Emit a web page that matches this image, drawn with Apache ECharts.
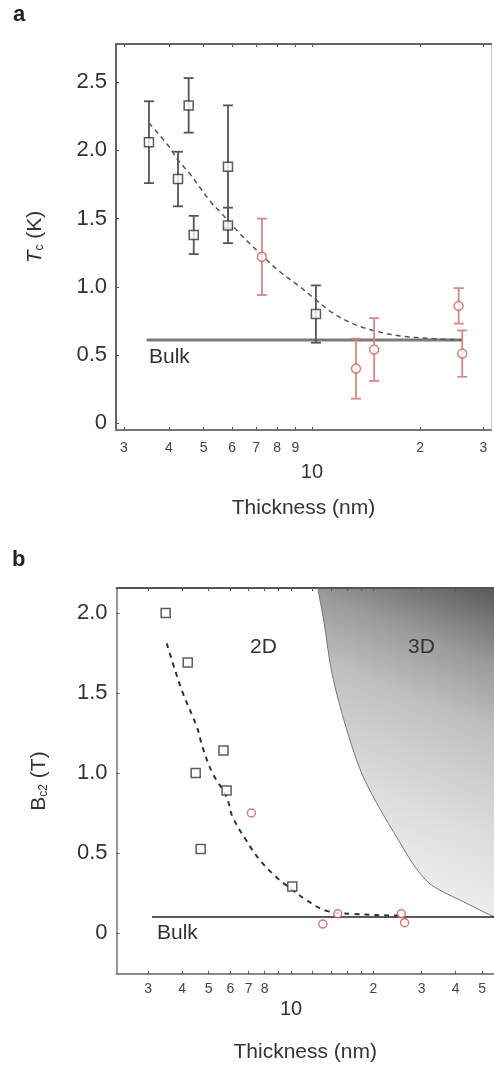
<!DOCTYPE html>
<html><head><meta charset="utf-8">
<script src="https://cdn.jsdelivr.net/npm/echarts@6/dist/echarts.min.js"></script>
<style>html,body{margin:0;padding:0;background:#fff}#c{width:494px;height:1069px}</style>
</head><body><div id="c"></div>
<script>
// ---------- Panel a : Tc vs thickness ----------
const aSqThick = [3.52, 4.54, 4.24, 5.84, 4.69, 5.84, 10.26];
const aSqTc    = [2.06, 2.33, 1.79, 1.88, 1.38, 1.45, 0.80];
const aSqErr   = [0.30, 0.20, 0.20, 0.45, 0.14, 0.13, 0.21];
const aCiThick = [7.26, 13.26, 14.9, 25.6, 26.2];
const aCiTc    = [1.22, 0.40, 0.54, 0.86, 0.51];
const aCiErr   = [0.28, 0.22, 0.23, 0.13, 0.17];
const aFitThick = [3.52, 3.97, 4.24, 4.57, 5.20, 5.55, 6.30, 7.2, 8.15, 9.26, 10.2, 11.4, 13.0, 14.8, 17.6, 21.7, 26.2];
const aFitTc    = [2.20, 2.04, 1.93, 1.83, 1.63, 1.55, 1.39, 1.24, 1.11, 1.00, 0.91, 0.81, 0.73, 0.68, 0.64, 0.62, 0.61];
const aBulkThick = [3.47, 26.2];
const aBulkTc = 0.61;
const aXLabels = [3, 4, 5, 6, 7, 8, 9, 10, 20, 30];
const aXTicks  = [3, 4, 5, 6, 7, 8, 9, 10, 20, 30];
const aYTicks  = [0, 0.5, 1, 1.5, 2, 2.5];
const aXRange = [2.85, 31.5];
const aYRange = [-0.05, 2.78];

// ---------- Panel b : Bc2 vs thickness ----------
const bSqThick = [3.48, 4.19, 4.48, 4.67, 5.66, 5.81, 10.1];
const bSqB     = [2.0, 1.69, 1.0, 0.525, 1.14, 0.89, 0.29];
const bCiThick = [7.16, 13.07, 14.8, 25.3, 26.0];
const bCiB     = [0.75, 0.056, 0.12, 0.12, 0.065];
const bFitThick = [3.51, 3.69, 4.02, 4.52, 4.75, 5.16, 5.81, 6.10, 6.85, 7.66, 8.82, 10.1, 11.3, 13.4, 16.7, 24.7, 26.0];
const bFitB     = [1.81, 1.69, 1.50, 1.29, 1.16, 1.00, 0.85, 0.73, 0.58, 0.46, 0.35, 0.27, 0.21, 0.14, 0.12, 0.11, 0.11];
const bBoundThick = [12.5, 13.2, 14.1, 15.85, 18.1, 20.9, 24.7, 28.5, 32.6, 43.3, 53.8, 56.0];
const bBoundB     = [2.16, 1.94, 1.625, 1.29, 1.0, 0.79, 0.58, 0.41, 0.30, 0.19, 0.11, 0.10];
const bBulkThick = [3.1, 60];
const bBulkB = 0.10;
const bXLabels = [3, 4, 5, 6, 7, 8, 10, 20, 30, 40, 50];
const bXTicks  = [3, 4, 5, 6, 7, 8, 9, 10, 12, 14, 16, 18, 20, 30, 40, 50];
const bYTicks  = [0, 0.5, 1, 1.5, 2];
const bXRange = [2.30, 55.2];
const bYRange = [-0.256, 2.156];

const lg = Math.log10;
const FONT = 'Liberation Sans, Arial, sans-serif';
const TXT = '#333';

function pts(th, v) { return th.map((t, i) => [lg(t), v[i]]); }
function errData(th, v, e) { return th.map((t, i) => [lg(t), v[i] - e[i], v[i] + e[i]]); }

function errSeries(data, color, xi, yi) {
  return {
    type: 'custom', xAxisIndex: xi, yAxisIndex: yi, data: data, encode: { x: 0, y: [1, 2] }, z: 3, silent: true,
    renderItem: function (params, api) {
      const x = api.value(0), lo = api.value(1), hi = api.value(2);
      const t = api.coord([x, hi]), b = api.coord([x, lo]);
      const st = { stroke: color, lineWidth: 1.8 };
      const c = 5;
      return { type: 'group', children: [
        { type: 'line', shape: { x1: t[0], y1: t[1], x2: b[0], y2: b[1] }, style: st },
        { type: 'line', shape: { x1: t[0] - c, y1: t[1], x2: t[0] + c, y2: t[1] }, style: st },
        { type: 'line', shape: { x1: b[0] - c, y1: b[1], x2: b[0] + c, y2: b[1] }, style: st }
      ] };
    }
  };
}

function xFmt(v) {
  const n = Math.round(Math.pow(10, v));
  if (n === 10) return '{g| }\n{t|10}';
  return '{s|' + (n >= 20 ? n / 10 : n) + '}';
}

function xBottom(gi, range, labels, ticks, margin, gapH, lineColor) {
  return {
    type: 'value', gridIndex: gi, position: 'bottom', min: lg(range[0]), max: lg(range[1]),
    axisLine: { show: true, onZero: false, lineStyle: { color: lineColor, width: 2 } },
    splitLine: { show: false },
    axisTick: { show: true, inside: true, length: 3, customValues: ticks.map(lg), lineStyle: { color: '#555', width: 1 } },
    axisLabel: {
      customValues: labels.map(lg), margin: margin, formatter: xFmt,
      rich: {
        s: { fontSize: 14, color: '#444', fontFamily: FONT, lineHeight: 16 },
        g: { fontSize: 2, lineHeight: gapH },
        t: { fontSize: 20, color: TXT, fontFamily: FONT, lineHeight: 22 }
      }
    },
    name: 'Thickness (nm)', nameLocation: 'middle', nameGap: 68,
    nameTextStyle: { fontSize: 21, color: TXT, fontFamily: FONT }
  };
}
function xTop(gi, range, ticks, lineColor) {
  return {
    type: 'value', gridIndex: gi, position: 'top', min: lg(range[0]), max: lg(range[1]),
    axisLine: { show: true, onZero: false, lineStyle: { color: lineColor, width: 2 } },
    splitLine: { show: false },
    axisTick: { show: true, inside: true, length: 3, customValues: ticks.map(lg), lineStyle: { color: '#555', width: 1 } },
    axisLabel: { show: false }
  };
}
function yLeft(gi, range, ticks, name, rich, lineColor, gap) {
  return {
    type: 'value', gridIndex: gi, position: 'left', min: range[0], max: range[1],
    axisLine: { show: true, onZero: false, lineStyle: { color: lineColor, width: 2 } },
    splitLine: { show: false },
    axisTick: { show: true, inside: true, length: 3, customValues: ticks, lineStyle: { color: '#555' } },
    axisLabel: { customValues: ticks, margin: 9, fontSize: 22, color: TXT, fontFamily: FONT,
      formatter: v => (v === 0 ? '0' : v.toFixed(1)) },
    name: name, nameLocation: 'middle', nameGap: gap,
    nameTextStyle: { fontSize: 21, color: TXT, fontFamily: FONT, rich: rich }
  };
}
function yRight(gi, range, color) {
  return {
    type: 'value', gridIndex: gi, position: 'right', min: range[0], max: range[1],
    axisLine: { show: true, onZero: false, lineStyle: { color: color, width: 1 } },
    splitLine: { show: false }, axisTick: { show: false }, axisLabel: { show: false }
  };
}

const chart = echarts.init(document.getElementById('c'), null, { renderer: 'canvas' });

const option = {
  backgroundColor: '#fff',
  animation: false,
  grid: [
    { left: 116, top: 44, width: 375, height: 386 },
    { left: 116.5, top: 588, width: 380, height: 386 }
  ],
  xAxis: [
    xBottom(0, aXRange, aXLabels, aXTicks, 10, 21, '#777'),
    xTop(0, aXRange, aXTicks, '#666'),
    xBottom(1, bXRange, bXLabels, bXTicks, 7, 17, '#888'),
    xTop(1, bXRange, bXTicks, '#555')
  ],
  yAxis: [
    yLeft(0, aYRange, aYTicks, '{i|T}{sub|c} (K)', {
      i: { fontStyle: 'italic', fontSize: 21, color: TXT, fontFamily: FONT },
      sub: { fontSize: 12, color: TXT, fontFamily: FONT, verticalAlign: 'bottom', lineHeight: 14 }
    }, '#666', 70),
    yRight(0, aYRange, '#ccc'),
    yLeft(1, bYRange, bYTicks, 'B{sub|c2} (T)', {
      sub: { fontSize: 12, color: TXT, fontFamily: FONT, verticalAlign: 'bottom', lineHeight: 14 }
    }, '#999', 67),
    yRight(1, bYRange, '#ccc')
  ],
  graphic: [
    { type: 'text', x: 13, y: 15, z: 100, style: { text: 'a', font: 'bold 22px ' + FONT, fill: '#222', verticalAlign: 'middle' } },
    { type: 'text', x: 12, y: 560, z: 100, style: { text: 'b', font: 'bold 22px ' + FONT, fill: '#222', verticalAlign: 'middle' } },
    { type: 'text', x: 149, y: 357, z: 100, style: { text: 'Bulk', font: '21px ' + FONT, fill: TXT, verticalAlign: 'middle' } },
    { type: 'text', x: 157, y: 933, z: 100, style: { text: 'Bulk', font: '21px ' + FONT, fill: TXT, verticalAlign: 'middle' } },
    { type: 'text', x: 250, y: 647, z: 100, style: { text: '2D', font: '21px ' + FONT, fill: TXT, verticalAlign: 'middle' } },
    { type: 'text', x: 408, y: 647, z: 100, style: { text: '3D', font: '21px ' + FONT, fill: TXT, verticalAlign: 'middle' } }
  ],
  series: [
    // ----- panel a -----
    { type: 'line', xAxisIndex: 0, yAxisIndex: 0, data: aBulkThick.map(t => [lg(t), aBulkTc]),
      symbol: 'none', lineStyle: { color: '#7a7a7a', width: 3 }, z: 1, silent: true },
    { type: 'line', xAxisIndex: 0, yAxisIndex: 0, data: pts(aFitThick, aFitTc), smooth: 0.4,
      symbol: 'none', lineStyle: { color: '#555', width: 1.5, type: [5, 4] }, z: 2, silent: true },
    errSeries(errData(aSqThick, aSqTc, aSqErr), '#555', 0, 0),
    errSeries(errData(aCiThick, aCiTc, aCiErr), '#d08a8a', 0, 0),
    { type: 'scatter', xAxisIndex: 0, yAxisIndex: 0, data: pts(aSqThick, aSqTc), symbol: 'rect', symbolSize: 9,
      itemStyle: { color: '#fff', borderColor: '#333', borderWidth: 1.5 }, z: 5, silent: true },
    { type: 'scatter', xAxisIndex: 0, yAxisIndex: 0, data: pts(aCiThick, aCiTc), symbol: 'circle', symbolSize: 9,
      itemStyle: { color: '#fff', borderColor: '#c86464', borderWidth: 1.5 }, z: 5, silent: true },
    // ----- panel b -----
    { type: 'line', xAxisIndex: 2, yAxisIndex: 2, data: pts(bBoundThick, bBoundB), smooth: 0.3,
      symbol: 'none', lineStyle: { color: '#777', width: 1 },
      areaStyle: { origin: 'end', opacity: 1,
        color: new echarts.graphic.LinearGradient(496, 588, 371, 892, [
          { offset: 0, color: '#585858' },
          { offset: 0.22, color: '#9a9a9a' },
          { offset: 0.41, color: '#c0c0c0' },
          { offset: 0.7, color: '#dcdcdc' },
          { offset: 1, color: '#f2f2f2' }
        ], true) },
      z: 0, silent: true },
    { type: 'line', xAxisIndex: 2, yAxisIndex: 2, data: bBulkThick.map(t => [lg(t), bBulkB]),
      symbol: 'none', lineStyle: { color: '#222', width: 1.5 }, z: 1, silent: true },
    { type: 'line', xAxisIndex: 2, yAxisIndex: 2, data: pts(bFitThick, bFitB), smooth: 0.4,
      symbol: 'none', lineStyle: { color: '#333', width: 2, type: [5, 5] }, z: 2, silent: true },
    { type: 'scatter', xAxisIndex: 2, yAxisIndex: 2, data: pts(bSqThick, bSqB), symbol: 'rect', symbolSize: 9,
      itemStyle: { color: '#fff', borderColor: '#333', borderWidth: 1.5 }, z: 5, silent: true },
    { type: 'scatter', xAxisIndex: 2, yAxisIndex: 2, data: pts(bCiThick, bCiB), symbol: 'circle', symbolSize: 8,
      itemStyle: { color: '#fff', borderColor: '#cc5a5a', borderWidth: 1.5 }, z: 5, silent: true }
  ]
};
chart.setOption(option);
</script>
</body></html>
